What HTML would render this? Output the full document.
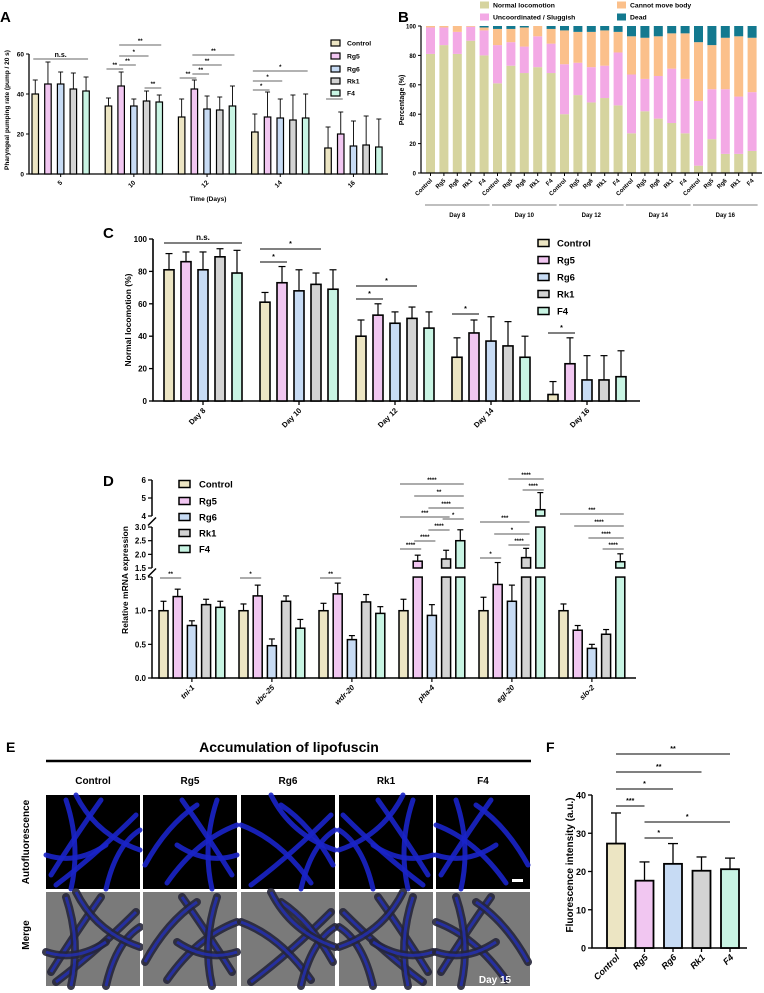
<!DOCTYPE html>
<html><head><meta charset="utf-8"><style>
html,body{margin:0;padding:0;background:#fff;}
svg{display:block;font-family:"Liberation Sans",Arial,sans-serif;}
text{font-weight:bold;fill:#000;}
</style></head><body>
<svg id="fig" width="764" height="993" viewBox="0 0 764 993"></svg>
<script>
// ---------- DATA ----------
const groupNames = ["Control","Rg5","Rg6","Rk1","F4"];
const groupColors = ["#ece5c3","#f1c6f1","#c7dbf4","#d3d3d3","#c8f4e3"];
// Panel A
const aDays = ["5","10","12","14","16"];
const aMeans = [[40,45,45,42.5,41.5],[34,44,34,36.5,36],[28.5,42.5,32.5,32,34],[21,28.5,28,27,28],[13,20,14,14.5,13.5]];
const aErrTop = [[47,56,51,50.5,48.5],[38,51,37.5,41.5,39.5],[37.5,47,39,38.5,44],[30,41,37.5,39.5,40],[23.5,31,26.5,29,27.5]];
const aTicks = [0,20,40,60];
const aSig = [[0,0,4,59,"n.s."],[1,1,4,45,"**"],[1,1,3,56,"*"],[1,0,1,69,"**"],[1,1,2,65,"**"],[1,3,4,88,"**"],[2,1,4,55,"**"],[2,1,3,65,"**"],[2,0,1,78,"**"],[2,1,2,74,"**"],[3,0,4,71,"*"],[3,0,2,81,"*"],[3,0,1,90,"*"],[4,0,1,99,"*"]];
// Panel B
const bDays = ["Day 8","Day 10","Day 12","Day 14","Day 16"];
const bCats = ["Normal locomotion","Uncoordinated / Sluggish","Cannot move body","Dead"];
const bColors = ["#d6d49f","#f3a9e5","#fbc08b","#13798f"];
const bNormal = [81,87,81,90,80, 61,73,68,72,68, 40,53,48,51,46, 27,42,37,34,27, 5,23,13,13,15];
const bUncoord = [18,12,15,9.5,17, 26,16,18,21,20, 34,22,24,22,36, 40,22,29,37,37, 44,34,44,39,40];
const bCannot = [1,1,4,0.5,2, 11,9,13,7,10, 23,21,24,24,14, 26,28,27,24,31, 40,30,35,41,37];
const bDead = [0,0,0,0,1, 2,2,1,0,2, 3,4,4,3,4, 7,8,7,5,5, 11,13,8,7,8];
const bTicks = [0,20,40,60,80,100];
// Panel C
const cDays = ["Day 8","Day 10","Day 12","Day 14","Day 16"];
const cMeans = [[81,86,81,89,79],[61,73,68,72,69],[40,53,48,51,45],[27,42,37,34,27],[4,23,13,13,15]];
const cErrTop = [[91,92,92,94,93],[67,83,81,79,81],[50,60,55,58,55],[39,50,52,49,40],[12,39,28,28,31]];
const cTicks = [0,20,40,60,80,100];
const cSig = [[0,0,4,243,"n.s."],[1,0,3,249,"*"],[1,0,1,262,"*"],[2,0,3,286,"*"],[2,0,1,299,"*"],[3,0,1,314,"*"],[4,0,1,333,"*"]];
// Panel D
const dGenes = ["tni-1","ubc-25","wdr-20","pha-4","egl-20","slo-2"];
const dMeans = [[1.0,1.21,0.78,1.09,1.05],[1.0,1.22,0.48,1.14,0.74],[1.0,1.25,0.57,1.13,0.96],[1.0,1.75,0.93,1.83,2.5],[1.0,1.39,1.14,1.88,4.35],[1.0,0.71,0.44,0.65,1.73]];
const dErrTop = [[1.14,1.32,0.85,1.17,1.14],[1.1,1.38,0.58,1.22,0.87],[1.11,1.41,0.63,1.24,1.06],[1.17,1.97,1.09,2.15,2.9],[1.2,1.7,1.38,2.22,5.3],[1.1,0.78,0.5,0.72,2.02]];
const dTicksLow = [0,0.5,1.0,1.5];
const dTicksMid = [1.5,2.0,2.5,3.0];
const dTicksTop = [4,5,6];
const dSig = [[0,0,1,578,"**"],[1,0,1,578,"*"],[2,0,1,578,"**"],
 [3,0,4,484,"****"],[3,1,4,496,"**"],[3,2,4,508,"****"],[3,0,3,517,"***"],[3,3,4,519,"*"],[3,2,3,530,"****"],[3,1,2,541,"****"],[3,0,1,549,"****"],
 [4,2,4,479,"****"],[4,3,4,490,"****"],[4,0,3,522,"***"],[4,1,3,534,"*"],[4,2,3,545,"****"],[4,0,1,558,"*"],
 [5,0,4,514,"***"],[5,1,4,526,"****"],[5,2,4,538,"****"],[5,3,4,549,"****"]];
// Panel F
const fMeans = [27.3,17.6,22,20.2,20.6];
const fErrTop = [35.3,22.5,27.3,23.8,23.5];
const fTicks = [0,10,20,30,40];
const fSig = [[0,4,754,"**"],[0,3,772,"**"],[0,2,789,"*"],[0,1,806,"***"],[1,4,822,"*"],[1,2,838,"*"]];

// ---------- HELPERS ----------
const NS="http://www.w3.org/2000/svg";
const svg=document.getElementById('fig');
function mk(tag,attrs,parent){const e=document.createElementNS(NS,tag);for(const k in attrs)e.setAttribute(k,attrs[k]);(parent||svg).appendChild(e);return e;}
function txt(x,y,s,size,parent,extra){const t=mk('text',Object.assign({x:x,y:y,'font-size':size},extra||{}),parent);t.textContent=s;return t;}
function grp(name){const g=mk('g',{});return g;}

// ---------- PANEL A ----------
(function(){
 const g=grp('panel-a');
 const y=v=>174-v*2, x=(gi,b)=>32+gi*73.2+b*12.7, w=6.5;
 txt(0,22,'A',15,g);
 const ax=mk('path',{d:'M29,54 V174 H388',stroke:'#000','stroke-width':1.3,fill:'none'},g);
 
 aTicks.forEach(t=>{mk('line',{x1:26,x2:29,y1:y(t),y2:y(t),stroke:'#000'},g);
  const l=txt(24,y(t)+2.5,String(t),6.5,g,{'text-anchor':'end','font-weight':'normal'});
  });
 aDays.forEach((d,gi)=>{const cx=x(gi,2)+w/2;mk('line',{x1:cx,x2:cx,y1:174,y2:177,stroke:'#000'},g);
  const l=txt(cx+2,183,d,6.5,g,{'text-anchor':'end',transform:`rotate(-45 ${cx+2} 183)`});
  
  aMeans[gi].forEach((v,b)=>{const bx=x(gi,b);
   mk('line',{x1:bx+w/2,x2:bx+w/2,y1:y(v),y2:y(aErrTop[gi][b]),stroke:'#000','stroke-width':0.9},g);
   mk('line',{x1:bx+w/2-2.5,x2:bx+w/2+2.5,y1:y(aErrTop[gi][b]),y2:y(aErrTop[gi][b]),stroke:'#000','stroke-width':0.9},g);
   const r=mk('rect',{x:bx,y:y(v),width:w,height:174-y(v),fill:groupColors[b],stroke:'#000','stroke-width':1.2},g);
   });});
 aSig.forEach(s=>{const x1=x(s[0],s[1])+w/2-2,x2=x(s[0],s[2])+w/2+2;
  mk('line',{x1:x1,x2:x2,y1:s[3],y2:s[3],stroke:'#333','stroke-width':0.8},g);
  txt((x1+x2)/2,s[3]-2,s[4],s[4]==='n.s.'?7:6,g,{'text-anchor':'middle','font-weight':s[4]==='n.s.'?'bold':'normal'});});
 const yl=txt(9,110,'Pharyngeal pumping rate (pump / 20 s)',6.5,g,{'text-anchor':'middle',transform:'rotate(-90 9 110)'});
 
 const xl=txt(208,201,'Time (Days)',6.5,g,{'text-anchor':'middle'});
 
 groupNames.forEach((n,i)=>{const yy=[43,56,69,81,93][i];
  const e=mk('rect',{x:331,y:yy-3,width:9,height:6,fill:groupColors[i],stroke:'#000','stroke-width':1.2},g);
  
  txt(347,yy+2.5,n,6.8,g,{'font-weight':'normal'});});
})();

// ---------- PANEL B ----------
(function(){
 const g=grp('panel-b');
 const y=v=>173-v*1.47, x=i=>426+i*13.4, w=9;
 txt(398,22,'B',15,g);
 bCats.forEach((c,i)=>{const lx=i<2?480:617, ly=i%2===0?5:17;
  const e=mk('rect',{x:lx,y:ly-3.5,width:9,height:7,fill:bColors[i]},g);
  
  txt(lx+13,ly+2.5,c,6.8,g);});
 bTicks.forEach(t=>{mk('line',{x1:418,x2:421,y1:y(t),y2:y(t),stroke:'#000'},g);
  txt(416,y(t)+2.5,String(t),6,g,{'text-anchor':'end','font-weight':'normal'});});
 const series=[bNormal,bUncoord,bCannot,bDead];
 bNormal.forEach((_,i)=>{let acc=0;
  series.forEach((s,k)=>{const v=s[i];if(v>0){const r=mk('rect',{x:x(i),y:y(acc+v),width:w,height:y(acc)-y(acc+v),fill:bColors[k]},g);
   }acc+=v;});
  const cx=x(i)+w/2;mk('line',{x1:cx,x2:cx,y1:173,y2:176,stroke:'#000'},g);
  txt(cx+2,181,groupNames[i%5],6,g,{'text-anchor':'end',transform:`rotate(-45 ${cx+2} 181)`,'font-weight':'normal'});});
 mk('path',{d:'M421,26 V173 H762',stroke:'#000','stroke-width':1.2,fill:'none'},g);
 bDays.forEach((d,gi)=>{const x1=x(gi*5)-1,x2=x(gi*5+4)+w+1;
  mk('line',{x1:x1,x2:x2,y1:205,y2:205,stroke:'#555','stroke-width':0.8},g);
  const l=txt((x1+x2)/2,217,d,6,g,{'text-anchor':'middle','font-weight':'normal'});
  });
 txt(404,100,'Percentage (%)',7,g,{'text-anchor':'middle',transform:'rotate(-90 404 100)','font-weight':'normal'});
})();

// ---------- PANEL C ----------
(function(){
 const g=grp('panel-c');
 const y=v=>401-v*1.62, x=(gi,b)=>164+gi*96+b*17, w=10;
 txt(103,238,'C',15,g);
 mk('path',{d:'M153,239 V401 H640',stroke:'#000','stroke-width':1.6,fill:'none'},g);
 cTicks.forEach(t=>{mk('line',{x1:149,x2:153,y1:y(t),y2:y(t),stroke:'#000','stroke-width':1.3},g);
  txt(147,y(t)+3,String(t),8,g,{'text-anchor':'end'});});
 cDays.forEach((d,gi)=>{const cx=x(gi,2)+w/2;mk('line',{x1:cx,x2:cx,y1:401,y2:405,stroke:'#000','stroke-width':1.3},g);
  const l=txt(cx+3,411,d,7.5,g,{'text-anchor':'end',transform:`rotate(-45 ${cx+3} 411)`});
  
  cMeans[gi].forEach((v,b)=>{const bx=x(gi,b);
   mk('line',{x1:bx+w/2,x2:bx+w/2,y1:y(v),y2:y(cErrTop[gi][b]),stroke:'#000','stroke-width':1.2},g);
   mk('line',{x1:bx+w/2-3.5,x2:bx+w/2+3.5,y1:y(cErrTop[gi][b]),y2:y(cErrTop[gi][b]),stroke:'#000','stroke-width':1.2},g);
   const r=mk('rect',{x:bx,y:y(v),width:w,height:401-y(v),fill:groupColors[b],stroke:'#000','stroke-width':1.6},g);
   });});
 cSig.forEach(s=>{const x1=x(s[0],s[1]),x2=x(s[0],s[2])+w;
  mk('line',{x1:x1,x2:x2,y1:s[3],y2:s[3],stroke:'#000','stroke-width':0.9},g);
  txt((x1+x2)/2,s[3]-3,s[4],s[4]==='n.s.'?8:7,g,{'text-anchor':'middle'});});
 txt(131,320,'Normal locomotion (%)',8.5,g,{'text-anchor':'middle',transform:'rotate(-90 131 320)'});
 groupNames.forEach((n,i)=>{const yy=243+i*17;
  const e=mk('rect',{x:538,y:yy-3.5,width:11,height:7,fill:groupColors[i],stroke:'#000','stroke-width':1.5},g);
  
  txt(557,yy+3.5,n,9.5,g);});
})();

// ---------- PANEL D ----------
(function(){
 const g=grp('panel-d');
 const yLow=v=>678-v*67.3, yMid=v=>568-(v-1.5)*27.3, yTop=v=>516-(v-4)*18;
 const y=v=> v<=1.5 ? yLow(v) : (v<=3 ? yMid(v) : yTop(v));
 const x=(gi,b)=>159+gi*80+b*14.2, w=9;
 txt(103,486,'D',15,g);
 mk('path',{d:'M152,577 V678 H636',stroke:'#000','stroke-width':1.5,fill:'none'},g);
 mk('line',{x1:152,x2:152,y1:527,y2:568,stroke:'#000','stroke-width':1.5},g);
 mk('line',{x1:152,x2:152,y1:480,y2:516,stroke:'#000','stroke-width':1.5},g);
 [572.5,521.5].forEach(yy=>{mk('line',{x1:148,x2:156,y1:yy+4,y2:yy-4,stroke:'#000','stroke-width':1.5},g);});
 [[dTicksLow,yLow],[dTicksMid,yMid],[dTicksTop,yTop]].forEach(([ts,f])=>{
  ts.forEach(t=>{mk('line',{x1:148,x2:152,y1:f(t),y2:f(t),stroke:'#000','stroke-width':1.2},g);
   txt(146,f(t)+3,Number.isInteger(t)&&t>=4?String(t):t.toFixed(1),8,g,{'text-anchor':'end'});});});
 dGenes.forEach((d,gi)=>{const cx=x(gi,2)+w/2;mk('line',{x1:cx,x2:cx,y1:678,y2:682,stroke:'#000','stroke-width':1.2},g);
  const l=txt(cx+3,688,d,7.5,g,{'text-anchor':'end','font-style':'italic',transform:`rotate(-45 ${cx+3} 688)`});
  
  dMeans[gi].forEach((v,b)=>{const bx=x(gi,b),e=dErrTop[gi][b];
   mk('line',{x1:bx+w/2,x2:bx+w/2,y1:y(v),y2:y(e),stroke:'#000','stroke-width':1.2},g);
   mk('line',{x1:bx+w/2-3,x2:bx+w/2+3,y1:y(e),y2:y(e),stroke:'#000','stroke-width':1.2},g);
   const segs=[[yLow(0),yLow(Math.min(v,1.5))]];
   if(v>1.5)segs.push([yMid(1.5),yMid(Math.min(v,3))]);
   if(v>4)segs.push([yTop(4),yTop(v)]);
   segs.forEach(s=>{const r=mk('rect',{x:bx,y:s[1],width:w,height:s[0]-s[1],fill:groupColors[b],stroke:'#000','stroke-width':1.5},g);
    });});});
 dSig.forEach(s=>{const x1=x(s[0],s[1])+1,x2=x(s[0],s[2])+w-1;
  mk('line',{x1:x1,x2:x2,y1:s[3],y2:s[3],stroke:'#222','stroke-width':0.8},g);
  txt((x1+x2)/2,s[3]-2,s[4],6,g,{'text-anchor':'middle','font-weight':'normal'});});
 txt(128,580,'Relative mRNA expression',8.5,g,{'text-anchor':'middle',transform:'rotate(-90 128 580)'});
 groupNames.forEach((n,i)=>{const yy=[484,501,517,533,549][i];
  const e=mk('rect',{x:179,y:yy-3.5,width:11,height:7,fill:groupColors[i],stroke:'#000','stroke-width':1.5},g);
  
  txt(199,yy+3.5,n,9.5,g);});
})();

// ---------- PANEL E ----------
(function(){
 const g=grp('panel-e');
 txt(6,752,'E',14,g);
 txt(289,752,'Accumulation of lipofuscin',14,g,{'text-anchor':'middle'});
 mk('line',{x1:46,x2:531,y1:761,y2:761,stroke:'#000','stroke-width':2.5},g);
 const cols=[46,143,241,339,436], cw=94;
 const worms=["M5,80 Q30,40 55,5","M10,90 Q50,60 90,20","M0,30 Q40,45 70,88","M20,5 Q35,50 25,94","M60,94 Q70,50 94,35","M40,10 Q70,30 92,70","M0,60 Q30,70 60,50","M30,0 Q50,40 94,55"];
 groupNames.forEach((n,i)=>{const cx=cols[i];
  const l=txt(cx+cw/2,784,n,10,g,{'text-anchor':'middle'});
  
  [[795,'#000','#1a24c8',5,'autofluorescence'],[892,'#7a7a7a','#26263a',8,'merge']].forEach(([ry,bg,st,sw,kind])=>{
   const r=mk('rect',{x:cx,y:ry,width:cw,height:94,fill:bg},g);
   
   const tf=i%2?`translate(${cx+cw},${ry}) scale(-1,1)`:`translate(${cx},${ry})`;
   const wg=mk('g',{transform:tf},g);
   worms.forEach((p,k)=>{if((k+i)%3!==2){mk('path',{d:p,stroke:st,'stroke-width':sw,fill:'none','stroke-linecap':'round',opacity:0.9},wg);
    if(kind==='merge')mk('path',{d:p,stroke:'#2230c8','stroke-width':3,fill:'none',opacity:0.7},wg);}});});});
 txt(29,842,'Autofluorescence',10,g,{'text-anchor':'middle',transform:'rotate(-90 29 842)'});
 txt(29,935,'Merge',10,g,{'text-anchor':'middle',transform:'rotate(-90 29 935)'});
 txt(495,983,'Day 15',10,g,{'text-anchor':'middle',fill:'#fff',style:'fill:#fff'});
 mk('rect',{x:512,y:879,width:11,height:3,fill:'#fff'},g);
})();

// ---------- PANEL F ----------
(function(){
 const g=grp('panel-f');
 const y=v=>948-v*3.825, x=b=>607+b*28.5, w=18;
 txt(546,752,'F',14,g);
 mk('path',{d:'M592,795 V948 H747',stroke:'#000','stroke-width':1.5,fill:'none'},g);
 fTicks.forEach(t=>{mk('line',{x1:588,x2:592,y1:y(t),y2:y(t),stroke:'#000','stroke-width':1.3},g);
  txt(586,y(t)+3.5,String(t),9,g,{'text-anchor':'end'});});
 fMeans.forEach((v,b)=>{const bx=x(b),cx=bx+w/2;
  mk('line',{x1:cx,x2:cx,y1:y(v),y2:y(fErrTop[b]),stroke:'#000','stroke-width':1.3},g);
  mk('line',{x1:cx-5,x2:cx+5,y1:y(fErrTop[b]),y2:y(fErrTop[b]),stroke:'#000','stroke-width':1.3},g);
  const r=mk('rect',{x:bx,y:y(v),width:w,height:948-y(v),fill:groupColors[b],stroke:'#000','stroke-width':1.8},g);
  
  mk('line',{x1:cx,x2:cx,y1:948,y2:952,stroke:'#000','stroke-width':1.3},g);
  const l=txt(cx+4,958,groupNames[b],9,g,{'text-anchor':'end','font-style':'italic',transform:`rotate(-45 ${cx+4} 958)`});
  });
 fSig.forEach(s=>{const x1=x(s[0])+w/2,x2=x(s[1])+w/2;
  mk('line',{x1:x1,x2:x2,y1:s[2],y2:s[2],stroke:'#000','stroke-width':1},g);
  txt((x1+x2)/2,s[2]-3,s[3],7,g,{'text-anchor':'middle','font-weight':'normal'});});
 txt(573,865,'Fluorescence intensity (a.u.)',10,g,{'text-anchor':'middle',transform:'rotate(-90 573 865)'});
})();
</script>
</body></html>
